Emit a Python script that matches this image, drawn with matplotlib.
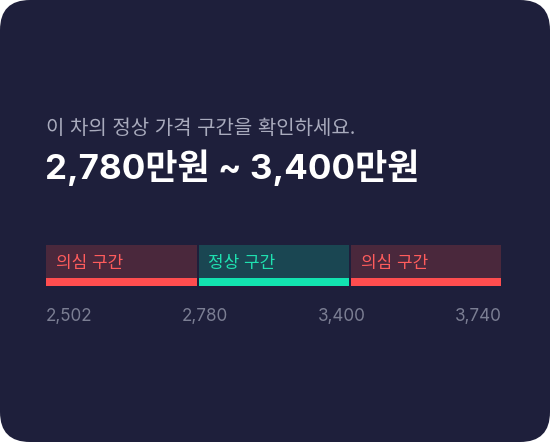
import matplotlib
matplotlib.use("Agg")
import matplotlib.pyplot as plt
from matplotlib.patches import FancyBboxPatch
import numpy as np

plt.rcParams['font.family'] = ['Inter', 'Noto Sans CJK KR', 'DejaVu Sans']

subtitle = "이 차의 정상 가격 구간을 확인하세요."
title = "2,780만원 ~ 3,400만원"
segments = ["의심 구간", "정상 구간", "의심 구간"]
bounds = ["2,502", "2,780", "3,400", "3,740"]

BG = "#1e1f3b"
fills = ["#4a283c", "#1a4652", "#4a283c"]
stripes = ["#ff4d4f", "#12e3b0", "#ff4d4f"]
label_colors = ["#ff5c5c", "#1fe0b0", "#ff5c5c"]

W, H = 550, 442
fig = plt.figure(figsize=(W/100, H/100), dpi=100)
fig.patch.set_facecolor("white")

bg = fig.add_axes([0, 0, 1, 1])
bg.set_xlim(0, W)
bg.set_ylim(H, 0)
bg.axis("off")
card = FancyBboxPatch((0, 0), W, H, boxstyle="round,pad=0,rounding_size=30",
                      facecolor=BG, edgecolor="none")
bg.add_patch(card)

bg.text(46, 134.5, subtitle, fontsize=14.4, color="#a9abbd", va="baseline", ha="left")
bg.text(45, 179, title, fontsize=25.2, color="white", fontweight="bold", va="baseline", ha="left")

# bar axes
x0, x1, ytop, ybot = 45.5, 501.5, 245, 286
ax = fig.add_axes([x0/W, (H-ybot)/H, (x1-x0)/W, (ybot-ytop)/H])
ax.set_xlim(0, len(segments))
ax.set_ylim(0, 1)
ax.axis("off")
idx = np.arange(len(segments))
unit = (x1 - x0) / len(segments)
seg_w = 150 / unit
ax.bar(idx + 0.5, 1, width=seg_w, color=fills, edgecolor="none")
ax.bar(idx + 0.5, 8/41, width=seg_w, color=stripes, edgecolor="none")
for i, (s, c) in enumerate(zip(segments, label_colors)):
    ax.text(i + 0.5 - seg_w/2 + 10/unit, 18/41, s, color=c, fontsize=12.2,
            va="baseline", ha="left")

# boundary labels, space-between layout
tick_ax = fig.add_axes([x0/W, 0, (x1-x0)/W, 1])
tick_ax.set_xlim(0, 1)
tick_ax.set_ylim(H, 0)
tick_ax.axis("off")
n = len(bounds)
lw = 47 / (x1 - x0)
for i, b in enumerate(bounds):
    cx = lw/2 + i * (1 - lw) / (n - 1)
    tick_ax.text(cx, 321, b, color="#7b7e93", fontsize=12.3, ha="center", va="baseline")

fig.savefig("out.png", dpi=100, facecolor="white")
